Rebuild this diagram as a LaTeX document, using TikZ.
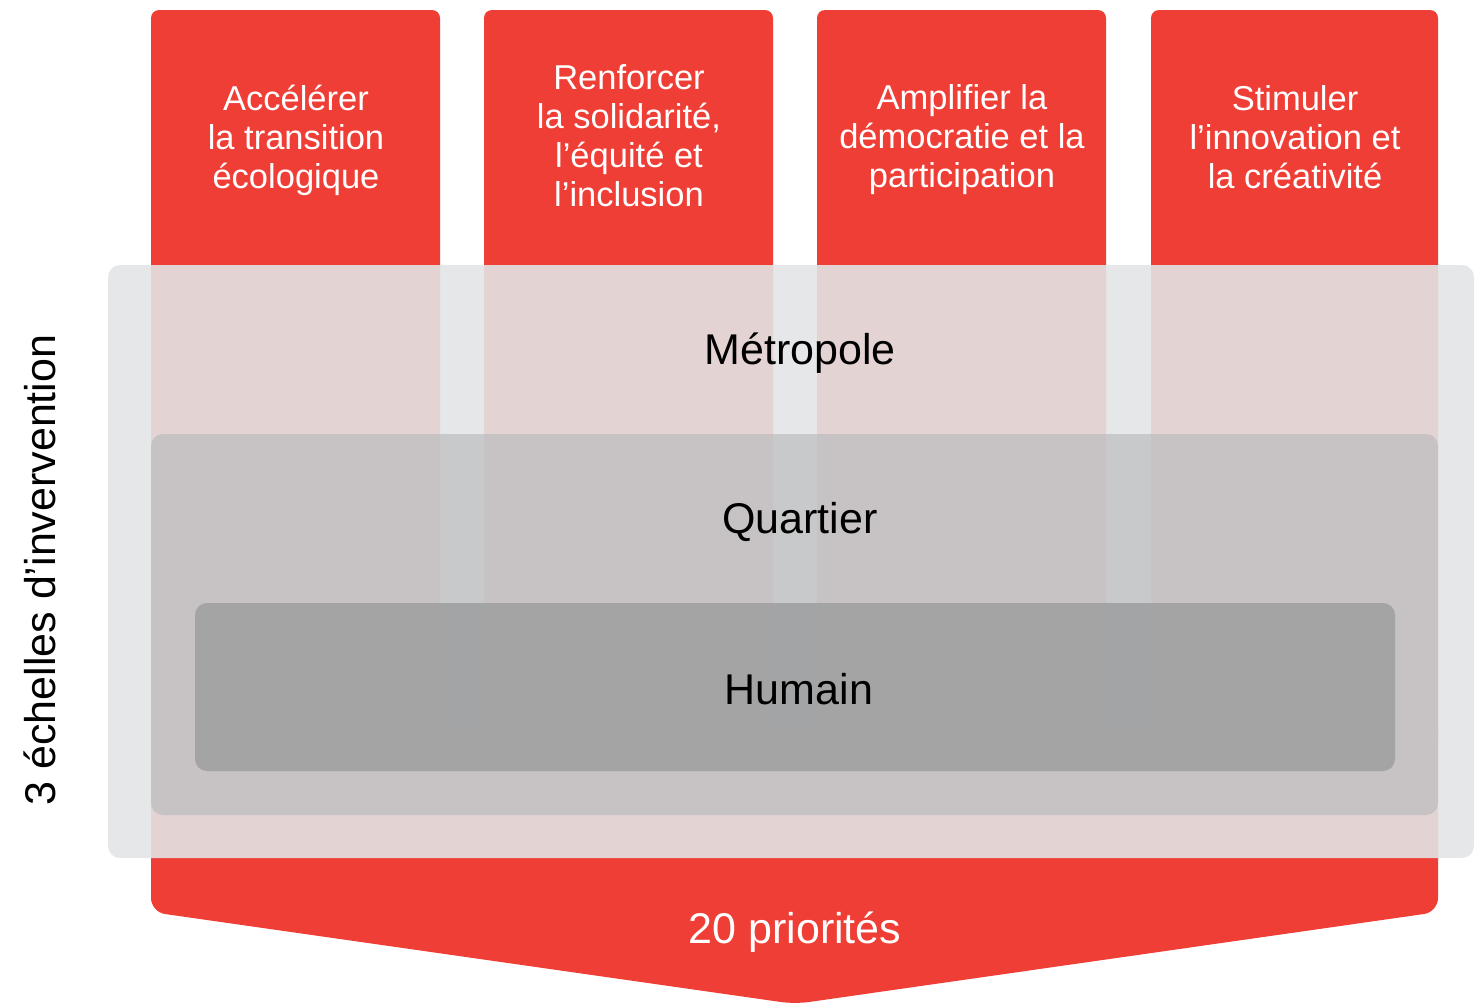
\documentclass[tikz,border=0pt]{standalone}
\usepackage{fontspec}
\setmainfont{Liberation Sans}
\definecolor{rouge}{RGB}{239,62,54}
\definecolor{gris1}{RGB}{227,228,229}
\definecolor{gris2}{RGB}{187,188,190}
\definecolor{gris3}{RGB}{158,159,160}
\tikzset{
axe/.style={text=white, align=center, font=\fontsize{34.5}{39}\selectfont},
echelle/.style={font=\fontsize{43}{50}\selectfont}
}
\begin{document}
\begin{tikzpicture}[x=1pt, y=-1pt]
\useasboundingbox (0,0) rectangle (1475,1002);
\foreach \xa/\xb in {151/440, 484/773, 817/1106, 1151/1438}
\fill[rouge](\xa,740)[rounded corners=8]--(\xa,10)--(\xb,10)[sharp corners]--(\xb,740)--cycle;
\fill[rouge](151,730)[rounded corners=14]--(151,912)--(795,1004)--(1438,912)[sharp corners]--(1438,730)--cycle;
\node[axe] (ecologie) at (296,140) {Accélérer\\la transition\\écologique};
\node[axe] (solidarite) at (629,136) {Renforcer\\la solidarité,\\l’équité et\\l’inclusion};
\node[axe] (democratie) at (962,140) {Amplifier la\\démocratie et la\\participation};
\node[axe] (innovation) at (1295,137) {Stimuler\\l’innovation et\\la créativité};
\fill[gris1, fill opacity=.9, rounded corners=12](108,265) rectangle (1474,858);
\fill[gris2, fill opacity=.7, rounded corners=12](151,434) rectangle (1438,815);
\fill[gris3, fill opacity=.85, rounded corners=12](195,603) rectangle (1395,771);
\node[echelle] (metropole) at (800,353) {Métropole};
\node[echelle] (quartier) at (800,522) {Quartier};
\node[echelle] (humain) at (799,689) {Humain};
\node[echelle, text=white] (priorites) at (795,932) {20 priorités};
\node[echelle, rotate=90] (echelles) at (40,570) {3 échelles d’invervention};
\end{tikzpicture}
\end{document}
